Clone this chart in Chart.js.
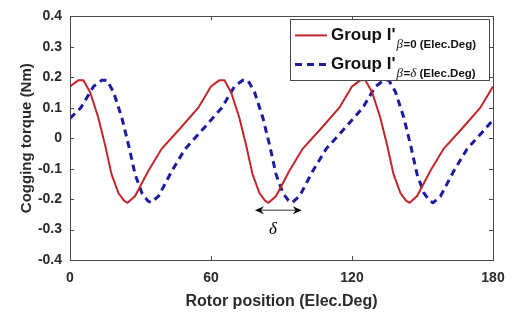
<!DOCTYPE html>
<html><head><meta charset="utf-8">
<script src="https://cdn.jsdelivr.net/npm/chart.js@4"></script>
<style>html,body{margin:0;padding:0;background:#fff;}#wrap{width:517px;height:315px;position:relative}</style>
</head><body><div id="wrap"><canvas id="c" width="517" height="315"></canvas></div>
<script>
// Group I', beta = 0
const redX = [0,3.5,5.7,8.5,12,15,17.7,20.6,23,24.5,27.7,33.3,39,47.5,54.6,
  60,63.5,65.7,68.5,72,75,77.7,80.6,83,84.5,87.7,93.3,99,107.5,114.6,
  120,123.5,125.7,128.5,132,135,137.7,140.6,143,144.5,147.7,153.3,159,167.5,174.6,180];
const redY = [0.17,0.19,0.19,0.152,0.069,-0.025,-0.119,-0.18,-0.205,-0.212,-0.19,-0.108,-0.035,0.0375,0.1,
  0.17,0.19,0.19,0.152,0.069,-0.025,-0.119,-0.18,-0.205,-0.212,-0.19,-0.108,-0.035,0.0375,0.1,
  0.17,0.19,0.19,0.152,0.069,-0.025,-0.119,-0.18,-0.205,-0.212,-0.19,-0.108,-0.035,0.0375,0.1,0.17];
// Group I', beta = delta
const blueX = [0,4.6,10,13.5,15.7,18.5,22,25,27.7,30.6,33,34.5,37.7,43.3,49,57.5,
  64.6,70,73.5,75.7,78.5,82,85,87.7,90.6,93,94.5,97.7,103.3,109,117.5,
  124.6,130,133.5,135.7,138.5,142,145,147.7,150.6,153,154.5,157.7,163.3,169,177.5,180];
const blueY = [0.065,0.1,0.17,0.19,0.19,0.152,0.069,-0.025,-0.119,-0.18,-0.205,-0.212,-0.19,-0.108,-0.035,0.0375,
  0.1,0.17,0.19,0.19,0.152,0.069,-0.025,-0.119,-0.18,-0.205,-0.212,-0.19,-0.108,-0.035,0.0375,
  0.1,0.17,0.19,0.19,0.152,0.069,-0.025,-0.119,-0.18,-0.205,-0.212,-0.19,-0.108,-0.035,0.0375,0.06];
const xTicks = [0,60,120,180];
const yTicks = [-0.4,-0.3,-0.2,-0.1,0,0.1,0.2,0.3,0.4];
const yTickLabels = ['-0.4','-0.3','-0.2','-0.1','0','0.1','0.2','0.3','0.4'];
const seriesNames = ["Group I'", "Group I'"];
const seriesSubs = [["β","=0 (Elec.Deg)"], ["β","=","δ"," (Elec.Deg)"]];
const deltaArrow = {from: 78.7, to: 98.6, y: -0.237, labelX: 86.4, labelY: -0.30};

const RED = '#c3272b', BLUE = '#1c1ca0', AX = '#4a4a4a', TXT = '#2a2a2a';
const F = '"Liberation Sans", Arial, sans-serif';

const extras = {
  id: 'extras',
  afterDraw(chart) {
    const ctx = chart.ctx, a = chart.chartArea;
    const xs = chart.scales.x, ys = chart.scales.y;
    ctx.save();
    ctx.strokeStyle = AX; ctx.lineWidth = 1;
    ctx.strokeRect(Math.round(a.left)+0.5, Math.round(a.top)+0.5, Math.round(a.right-a.left), Math.round(a.bottom-a.top));
    ctx.beginPath();
    xTicks.forEach(v => { const px = Math.round(xs.getPixelForValue(v))+0.5;
      ctx.moveTo(px, a.bottom); ctx.lineTo(px, a.bottom-4);
      ctx.moveTo(px, a.top); ctx.lineTo(px, a.top+4); });
    yTicks.forEach(v => { const py = Math.round(ys.getPixelForValue(v))+0.5;
      ctx.moveTo(a.left, py); ctx.lineTo(a.left+4, py);
      ctx.moveTo(a.right, py); ctx.lineTo(a.right-4, py); });
    ctx.stroke();
    // delta arrow
    const x1 = xs.getPixelForValue(deltaArrow.from), x2 = xs.getPixelForValue(deltaArrow.to), y = ys.getPixelForValue(deltaArrow.y);
    ctx.strokeStyle = '#777'; ctx.lineWidth = 1.5;
    ctx.beginPath(); ctx.moveTo(x1+4, y); ctx.lineTo(x2-4, y); ctx.stroke();
    ctx.fillStyle = '#000';
    ctx.beginPath(); ctx.moveTo(x1, y); ctx.lineTo(x1+9, y-4); ctx.lineTo(x1+6, y); ctx.lineTo(x1+9, y+4); ctx.closePath(); ctx.fill();
    ctx.beginPath(); ctx.moveTo(x2, y); ctx.lineTo(x2-9, y-4); ctx.lineTo(x2-6, y); ctx.lineTo(x2-9, y+4); ctx.closePath(); ctx.fill();
    ctx.font = 'italic 17px "Liberation Serif", serif';
    ctx.textAlign = 'center'; ctx.textBaseline = 'middle';
    ctx.fillText('δ', xs.getPixelForValue(deltaArrow.labelX), ys.getPixelForValue(deltaArrow.labelY));
    // legend
    const L = a.right - 203, T = a.top + 3, W = 199, H = 61;
    ctx.fillStyle = '#fff'; ctx.fillRect(L, T, W, H);
    ctx.strokeStyle = AX; ctx.lineWidth = 1;
    ctx.strokeRect(Math.round(L)+0.5, Math.round(T)+0.5, W, H);
    const rows = [{c: RED, dash: [], w: 2, y: T+16}, {c: BLUE, dash: [7,5], w: 3, y: T+45}];
    rows.forEach((r, i) => {
      ctx.strokeStyle = r.c; ctx.lineWidth = r.w; ctx.setLineDash(r.dash);
      ctx.beginPath(); ctx.moveTo(L+5, r.y); ctx.lineTo(L+37, r.y); ctx.stroke();
      ctx.setLineDash([]);
      ctx.fillStyle = '#111'; ctx.textAlign = 'left'; ctx.textBaseline = 'alphabetic';
      ctx.font = 'bold 17px ' + F;
      ctx.fillText(seriesNames[i], L+41, r.y+5);
      let x = L + 41 + ctx.measureText(seriesNames[i]).width + 1;
      seriesSubs[i].forEach(s => {
        ctx.font = (s === 'β' || s === 'δ') ? 'italic 13px "Liberation Serif", serif' : 'bold 11.5px ' + F;
        ctx.fillText(s, x, r.y+13);
        x += ctx.measureText(s).width + (s === 'β' ? 0.5 : 0);
      });
    });
    ctx.restore();
  }
};

new Chart(document.getElementById('c'), {
  type: 'line',
  data: {
    datasets: [
      {data: redX.map((x, i) => ({x, y: redY[i]})), borderColor: RED, borderWidth: 2, pointRadius: 0, tension: 0, fill: false},
      {data: blueX.map((x, i) => ({x, y: blueY[i]})), borderColor: BLUE, borderWidth: 3, borderDash: [7,5], pointRadius: 0, tension: 0, fill: false}
    ]
  },
  options: {
    responsive: false, animation: false, devicePixelRatio: 1,
    layout: {padding: {top: 4, right: 24, left: 14, bottom: 0}},
    plugins: {legend: {display: false}, tooltip: {enabled: false}},
    scales: {
      x: {
        type: 'linear', min: 0, max: 180,
        afterBuildTicks: s => { s.ticks = xTicks.map(v => ({value: v})); },
        afterFit: s => { s.height = 55; },
        grid: {display: false, drawTicks: false}, border: {display: false},
        ticks: {color: TXT, font: {family: F, size: 14, weight: 'bold'}, padding: 10, maxRotation: 0,
          callback: v => String(v)},
        title: {display: true, text: 'Rotor position (Elec.Deg)', color: TXT, font: {family: F, size: 16, weight: 'bold'}, padding: {top: 1}}
      },
      y: {
        type: 'linear', min: -0.4, max: 0.4,
        afterBuildTicks: s => { s.ticks = yTicks.map(v => ({value: v})); },
        afterFit: s => { s.width = 56; },
        grid: {display: false, drawTicks: false}, border: {display: false},
        ticks: {color: TXT, font: {family: F, size: 14, weight: 'bold'}, padding: 8,
          callback: (v) => yTickLabels[yTicks.findIndex(t => Math.abs(t - v) < 1e-9)]},
        title: {display: true, text: 'Cogging torque (Nm)', color: TXT, font: {family: F, size: 15, weight: 'bold'}, padding: {bottom: 0}}
      }
    }
  },
  plugins: [extras]
});
</script></body></html>
